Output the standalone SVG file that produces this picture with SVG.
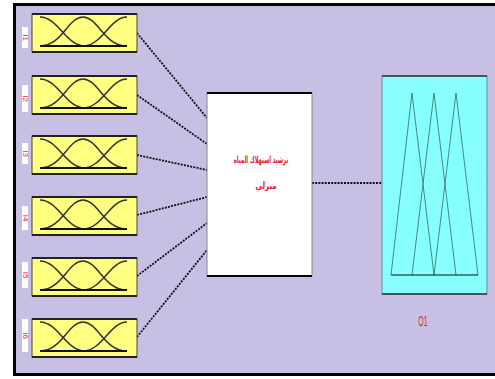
<svg xmlns="http://www.w3.org/2000/svg" width="495" height="379" viewBox="0 0 495 379">
<defs>
<style>
.in rect.b{fill:#FFFF80;stroke:#444;stroke-width:1}
.in line.t{stroke:#222;stroke-width:2}
.mf{fill:none;stroke:#333;stroke-width:1.5}
.base{stroke:#111;stroke-width:2}
.lab rect{fill:#fff}
.lab text{font-family:"Liberation Sans",Arial,sans-serif;font-size:8px;fill:#e8203a}
.conn line{stroke:#111;stroke-width:1.8;stroke-dasharray:2 1.2}
.tri{fill:none;stroke:#3a7c7c;stroke-width:0.9}
.ar{font-family:"DejaVu Sans","Noto Sans",sans-serif;font-size:10px;font-weight:bold;fill:#e8203a}
</style>
<g id="mfshape">
<path class="mf" d="M40,17 C58,17 66,46 85,46"/>
<path class="mf" d="M40,46 C62,46 68,17 83,17 C98,17 104,46 127,46"/>
<path class="mf" d="M83,46 C102,46 110,17 127,17"/>
<line class="base" x1="40" y1="46" x2="127" y2="46"/>
</g>
</defs>
<rect x="0" y="0" width="495" height="379" fill="#fff"/>
<rect id="frame" x="14.5" y="4.5" width="500" height="370" fill="#C8C0E4" stroke="#000" stroke-width="3"/>
<g class="conn">
<line x1="137" y1="33" x2="207" y2="118"/>
<line x1="137" y1="95" x2="207" y2="144"/>
<line x1="137" y1="155" x2="207" y2="170"/>
<line x1="137" y1="215" x2="207" y2="197"/>
<line x1="137" y1="276" x2="207" y2="223"/>
<line x1="137" y1="337" x2="207" y2="250"/>
<line x1="312" y1="183" x2="382" y2="183"/>
</g>
<g id="I1" class="in">
<rect class="b" x="32" y="14" width="105" height="38"/>
<line class="t" x1="32" y1="14" x2="137" y2="14"/><line class="t" x1="32" y1="52" x2="137" y2="52"/>
<use href="#mfshape"/>
<g class="lab"><rect x="22" y="27" width="6" height="21"/><text transform="translate(23,37.5) rotate(90)" text-anchor="middle">I1</text></g>
</g>
<g id="I2" class="in" transform="translate(0,62)">
<rect class="b" x="32" y="14" width="105" height="38"/>
<line class="t" x1="32" y1="14" x2="137" y2="14"/><line class="t" x1="32" y1="52" x2="137" y2="52"/>
<use href="#mfshape"/>
<g class="lab"><rect x="22" y="23" width="6" height="27"/><text transform="translate(23,36.5) rotate(90)" text-anchor="middle">I2</text></g>
</g>
<g id="I3" class="in" transform="translate(0,122)">
<rect class="b" x="32" y="14" width="105" height="38"/>
<line class="t" x1="32" y1="14" x2="137" y2="14"/><line class="t" x1="32" y1="52" x2="137" y2="52"/>
<use href="#mfshape"/>
<g class="lab"><rect x="22" y="21" width="6" height="21"/><text transform="translate(23,31.5) rotate(90)" text-anchor="middle">I3</text></g>
</g>
<g id="I4" class="in" transform="translate(0,183)">
<rect class="b" x="32" y="14" width="105" height="38"/>
<line class="t" x1="32" y1="14" x2="137" y2="14"/><line class="t" x1="32" y1="52" x2="137" y2="52"/>
<use href="#mfshape"/>
<g class="lab"><rect x="22" y="23" width="6" height="24"/><text transform="translate(23,35) rotate(90)" text-anchor="middle">I4</text></g>
</g>
<g id="I5" class="in" transform="translate(0,244)">
<rect class="b" x="32" y="14" width="105" height="38"/>
<line class="t" x1="32" y1="14" x2="137" y2="14"/><line class="t" x1="32" y1="52" x2="137" y2="52"/>
<use href="#mfshape"/>
<g class="lab"><rect x="22" y="18" width="6" height="26"/><text transform="translate(23,31) rotate(90)" text-anchor="middle">I5</text></g>
</g>
<g id="I6" class="in" transform="translate(0,305)">
<rect class="b" x="32" y="14" width="105" height="38"/>
<line class="t" x1="32" y1="14" x2="137" y2="14"/><line class="t" x1="32" y1="52" x2="137" y2="52"/>
<use href="#mfshape"/>
<g class="lab"><rect x="22" y="14" width="6" height="33"/><text transform="translate(23,30.5) rotate(90)" text-anchor="middle">I6</text></g>
</g>
<g id="rules">
<rect x="207" y="93" width="105" height="183" fill="#fff" stroke="#888" stroke-width="1"/>
<line x1="207" y1="93" x2="312" y2="93" stroke="#000" stroke-width="2"/>
<line x1="207" y1="276" x2="312" y2="276" stroke="#000" stroke-width="2"/>
<text class="ar" x="0" y="0" text-anchor="middle" direction="rtl" transform="translate(261,163) scale(0.52,1)">ترشيد استهلاك المياه</text>
<text class="ar" x="0" y="0" text-anchor="middle" direction="rtl" transform="translate(266,189) scale(0.7,1)">منزلي</text>
</g>
<g id="O1">
<rect x="382" y="76" width="105" height="218" fill="#88FFFF" stroke="#6a8a8a" stroke-width="1"/>
<line x1="382" y1="76" x2="487" y2="76" stroke="#333" stroke-width="1.5"/>
<line x1="382" y1="294" x2="487" y2="294" stroke="#333" stroke-width="1.5"/>
<polyline class="tri" points="391,275 412,93 434,275"/>
<polyline class="tri" points="412,275 434,93 456,275"/>
<polyline class="tri" points="434,275 456,93 478,275"/>
<line x1="391" y1="275" x2="478" y2="275" stroke="#111" stroke-width="1.2"/>
<text x="0" y="0" text-anchor="middle" font-family="'Liberation Sans',sans-serif" font-size="14" fill="#e8203a" transform="translate(423,326) scale(0.5,1)">O1</text>
</g>
</svg>
